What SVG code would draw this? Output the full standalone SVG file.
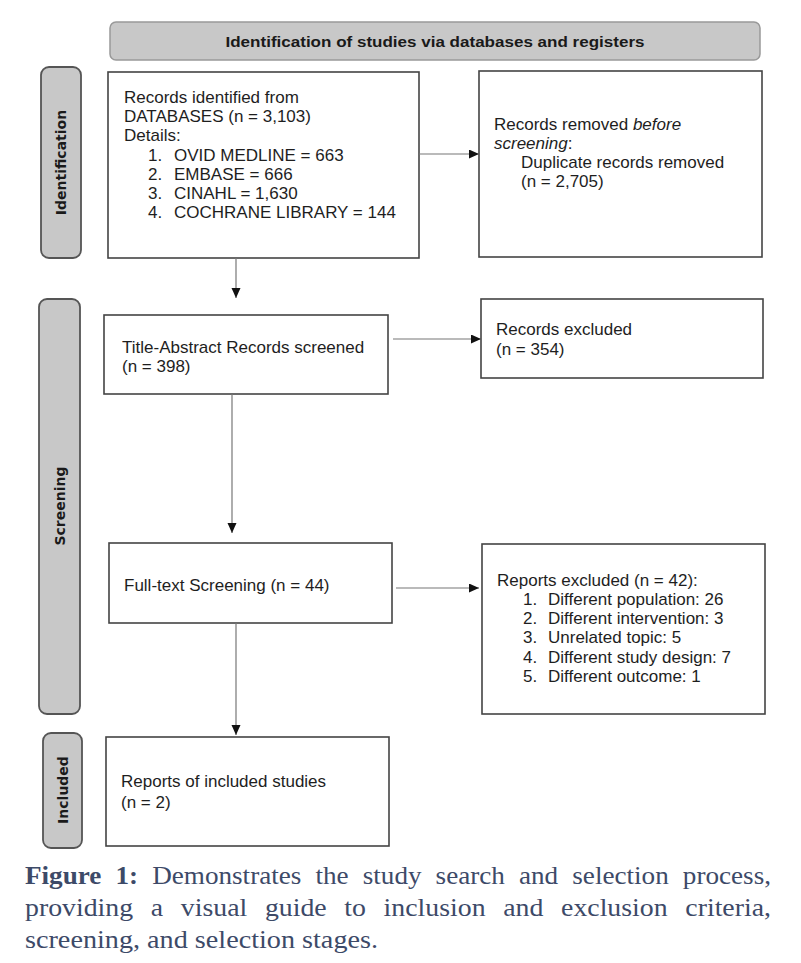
<svg xmlns="http://www.w3.org/2000/svg" width="801" height="963" viewBox="0 0 801 963">
<defs>
<marker id="ah" markerWidth="11" markerHeight="10" refX="10" refY="4.5" orient="auto" markerUnits="userSpaceOnUse">
<path d="M0,0 L10,4.5 L0,9 z" fill="#111"/>
</marker>
<style>
.box{fill:#fff;stroke:#444;stroke-width:1.6}
.side{fill:#c8c8c8;stroke:#555;stroke-width:1.8}
.t{font-family:"Liberation Sans",Arial,sans-serif;font-size:17px;fill:#1e1e1e}
.st{font-family:"DejaVu Sans",Verdana,sans-serif;font-size:14px;font-weight:bold;fill:#1a1a1a}
.bt{font-family:"Liberation Sans",Arial,sans-serif;font-size:15px;font-weight:bold;fill:#1a1a1a}
.cap{font-family:"Liberation Serif","Times New Roman",serif;font-size:26px;fill:#3d4a68}
.conn{stroke:#777;stroke-width:1.2;fill:none}
</style>
</defs>
<rect width="801" height="963" fill="#fff"/>

<g id="banner">
<rect x="110" y="22" width="650" height="38" rx="6" fill="#c8c8c8" stroke="#999" stroke-width="1.5"/>
<text class="bt" x="435" y="46.5" text-anchor="middle" textLength="419" lengthAdjust="spacingAndGlyphs">Identification of studies via databases and registers</text>
</g>

<g id="side-identification">
<rect class="side" x="41" y="67" width="40" height="191" rx="8"/>
<text class="st" transform="translate(66,162.5) rotate(-90)" text-anchor="middle">Identification</text>
</g>
<g id="side-screening">
<rect class="side" x="39" y="299" width="41" height="415" rx="8"/>
<text class="st" transform="translate(64.5,506) rotate(-90)" text-anchor="middle">Screening</text>
</g>
<g id="side-included">
<rect class="side" x="43" y="733" width="39" height="115" rx="8"/>
<text class="st" transform="translate(67.5,790) rotate(-90)" text-anchor="middle">Included</text>
</g>

<g id="records-identified">
<rect class="box" x="108" y="72" width="311" height="186"/>
<text class="t" x="124" y="103">Records identified from</text>
<text class="t" x="124" y="122">DATABASES (n = 3,103)</text>
<text class="t" x="124" y="141">Details:</text>
<text class="t" x="148" y="161">1.</text><text class="t" x="174" y="161">OVID MEDLINE = 663</text>
<text class="t" x="148" y="180">2.</text><text class="t" x="174" y="180">EMBASE = 666</text>
<text class="t" x="148" y="199">3.</text><text class="t" x="174" y="199">CINAHL = 1,630</text>
<text class="t" x="148" y="218">4.</text><text class="t" x="174" y="218">COCHRANE LIBRARY = 144</text>
</g>

<g id="records-removed">
<rect class="box" x="479" y="71" width="283" height="186"/>
<text class="t" x="494" y="130">Records removed <tspan font-style="italic">before</tspan></text>
<text class="t" x="494" y="149"><tspan font-style="italic">screening</tspan>:</text>
<text class="t" x="521" y="168">Duplicate records removed</text>
<text class="t" x="521" y="187">(n = 2,705)</text>
</g>

<g id="title-abstract">
<rect class="box" x="104" y="315" width="284" height="79"/>
<text class="t" x="122" y="353">Title-Abstract Records screened</text>
<text class="t" x="122" y="372">(n = 398)</text>
</g>

<g id="records-excluded">
<rect class="box" x="481" y="299" width="282" height="79"/>
<text class="t" x="496" y="335">Records excluded</text>
<text class="t" x="496" y="355">(n = 354)</text>
</g>

<g id="full-text">
<rect class="box" x="109" y="543" width="283" height="80"/>
<text class="t" x="124" y="591">Full-text Screening (n = 44)</text>
</g>

<g id="reports-excluded">
<rect class="box" x="482" y="544" width="283" height="170"/>
<text class="t" x="497" y="586">Reports excluded (n = 42):</text>
<text class="t" x="523" y="605">1.</text><text class="t" x="548" y="605">Different population: 26</text>
<text class="t" x="523" y="624">2.</text><text class="t" x="548" y="624">Different intervention: 3</text>
<text class="t" x="523" y="643">3.</text><text class="t" x="548" y="643">Unrelated topic: 5</text>
<text class="t" x="523" y="663">4.</text><text class="t" x="548" y="663">Different study design: 7</text>
<text class="t" x="523" y="682">5.</text><text class="t" x="548" y="682">Different outcome: 1</text>
</g>

<g id="included-studies">
<rect class="box" x="106" y="737" width="283" height="109"/>
<text class="t" x="121" y="787">Reports of included studies</text>
<text class="t" x="121" y="808">(n = 2)</text>
</g>

<g id="connectors">
<line class="conn" x1="419" y1="154" x2="479" y2="154" marker-end="url(#ah)"/>
<line class="conn" x1="236" y1="258" x2="236" y2="298" marker-end="url(#ah)"/>
<line class="conn" x1="393" y1="339" x2="481" y2="339" marker-end="url(#ah)"/>
<line class="conn" x1="232" y1="394" x2="232" y2="533" marker-end="url(#ah)"/>
<line class="conn" x1="396" y1="588" x2="479" y2="588" marker-end="url(#ah)"/>
<line class="conn" x1="236" y1="623" x2="236" y2="735" marker-end="url(#ah)"/>
</g>

<g id="caption">
<text class="cap" x="25" y="884" word-spacing="7" textLength="746" lengthAdjust="spacingAndGlyphs"><tspan font-weight="bold">Figure 1:</tspan> Demonstrates the study search and selection process,</text>
<text class="cap" x="25" y="916" word-spacing="10" textLength="746" lengthAdjust="spacingAndGlyphs">providing a visual guide to inclusion and exclusion criteria,</text>
<text class="cap" x="25" y="948" textLength="353" lengthAdjust="spacingAndGlyphs">screening, and selection stages.</text>
</g>
</svg>
